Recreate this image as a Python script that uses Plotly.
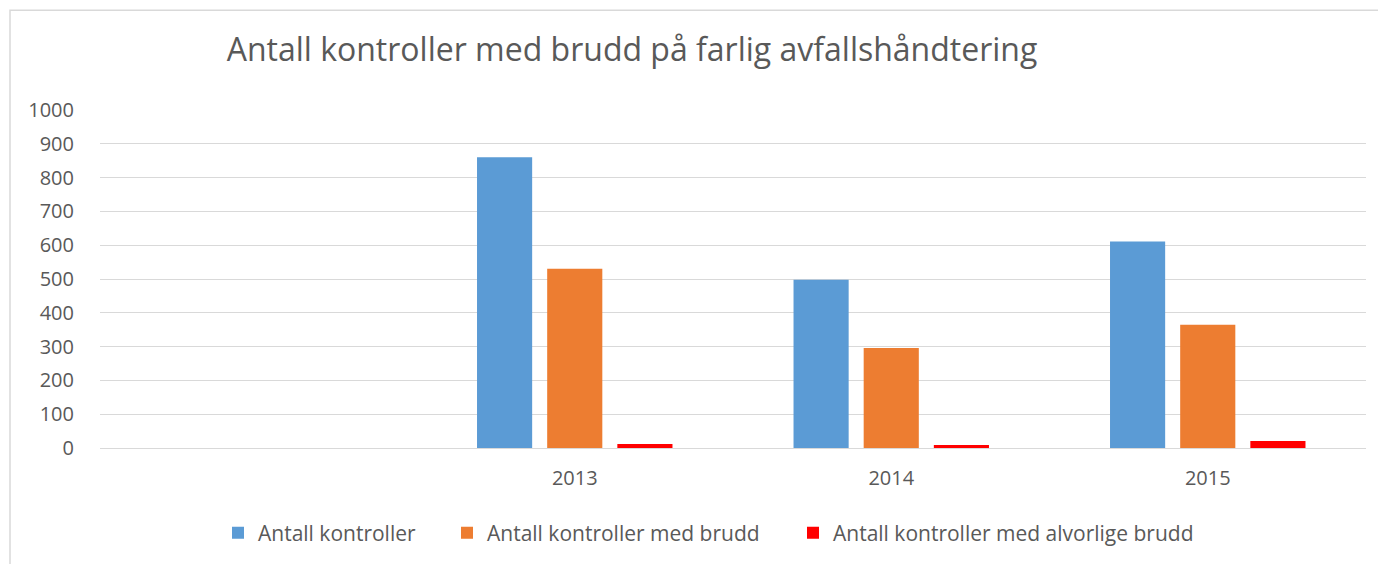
import plotly.graph_objects as go

categories = [" ", "2013", "2014", "2015"]
antall_kontroller = [None, 860, 498, 611]
med_brudd = [None, 530, 296, 365]
alvorlige_brudd = [None, 12, 9, 21]

title = "Antall kontroller med brudd på farlig avfallshåndtering"
series_names = ["Antall kontroller", "Antall kontroller med brudd",
                "Antall kontroller med alvorlige brudd"]
colors = ["#5B9BD5", "#ED7D31", "#FF0000"]
legend_square_px = [232, 461, 807]   # page x of each legend square (left edge)

OX, OY = 8, 8                # default page body margin
W, H = 1386 - OX, 564 - OY
PL, PR, PT, PB = 100, 1366, 110, 449   # plot area in page px
L, R, T, B = PL - OX, W - (PR - OX), PT - OY, H - (PB - OY)
PW, PH = W - L - R, H - T - B
FONT = "Open Sans"
TXT = "#595959"


def px_to_paper_x(px):
    return (px - PL) / PW


def px_to_paper_y(py):
    return (PB - py) / PH


fig = go.Figure()
legend_ids = ["legend", "legend2", "legend3"]
for name, vals, col, lid in zip(series_names, [antall_kontroller, med_brudd, alvorlige_brudd],
                                colors, legend_ids):
    fig.add_trace(go.Bar(x=categories, y=vals, name=name, marker_color=col,
                         marker_line_width=0, legend=lid))

leg_common = dict(orientation="h", xanchor="left", yanchor="middle",
                  y=px_to_paper_y(533), font=dict(family=FONT, size=21, color=TXT),
                  bgcolor="rgba(0,0,0,0)", borderwidth=0)
legends = {}
for lid, sx in zip(legend_ids, legend_square_px):
    legends[lid] = dict(leg_common, x=px_to_paper_x(sx + 6 - 20))

fig.update_layout(
    width=W, height=H,
    margin=dict(l=L, r=R, t=T, b=B),
    paper_bgcolor="white", plot_bgcolor="white",
    barmode="group", bargap=0.335, bargroupgap=0.214,
    font=dict(family=FONT, color=TXT, size=20),
    title=dict(text=title, x=(632 - OX) / W, xref="container", xanchor="center",
               y=1 - (50 - OY) / H, yref="container", yanchor="middle",
               font=dict(family=FONT, size=32, color=TXT)),
    showlegend=True,
    **legends,
)
fig.update_xaxes(type="category", categoryorder="array", categoryarray=categories,
                 showgrid=False, zeroline=False, showline=False, ticks="",
                 ticklabelstandoff=16, tickfont=dict(size=20, color=TXT),
                 range=[-0.5, 3.5])
fig.update_yaxes(range=[0, 1000], dtick=100, showgrid=True, gridcolor="#D9D9D9",
                 gridwidth=1, zeroline=True, zerolinecolor="#D9D9D9", zerolinewidth=1,
                 showline=False, ticks="", ticklabelstandoff=25,
                 tickfont=dict(size=20, color=TXT))

# outer chart border
fig.add_shape(type="rect", xref="paper", yref="paper",
              x0=px_to_paper_x(10), x1=px_to_paper_x(1420),
              y0=px_to_paper_y(600), y1=px_to_paper_y(10),
              line=dict(color="#D9D9D9", width=1.5), fillcolor="rgba(0,0,0,0)",
              layer="below")

fig.write_html("out.html")
